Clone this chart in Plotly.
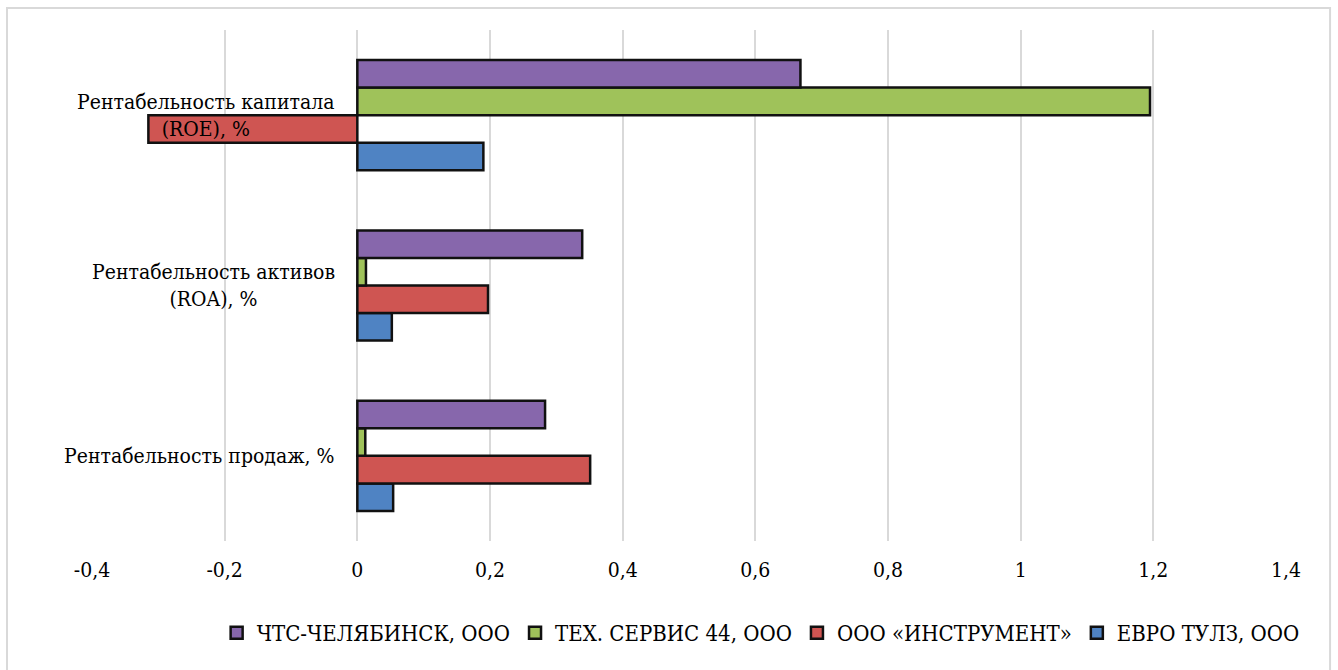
import plotly.graph_objects as go

# Profitability indicators (bottom to top on the chart)
categories = [
    "Рентабельность продаж, %",
    "Рентабельность активов<br>(ROA), %",
    "Рентабельность капитала<br>(ROE), %",
]

# Companies, listed in the order they are stacked inside a group (bottom first)
companies = ["ЕВРО ТУЛЗ, ООО", "ООО «ИНСТРУМЕНТ»", "ТЕХ. СЕРВИС 44, ООО", "ЧТС-ЧЕЛЯБИНСК, ООО"]
evro_tulz = [0.054, 0.052, 0.19]
instrument = [0.351, 0.197, -0.315]
teh_servis = [0.012, 0.013, 1.195]
chts = [0.283, 0.339, 0.668]
series = [evro_tulz, instrument, teh_servis, chts]
colors = ["#4f83c3", "#cf5552", "#9fc25a", "#8767ac"]

tick_vals = [-0.4, -0.2, 0, 0.2, 0.4, 0.6, 0.8, 1.0, 1.2, 1.4]
tick_text = ["-0,4", "-0,2", "0", "0,2", "0,4", "0,6", "0,8", "1", "1,2", "1,4"]

FONT = "DejaVu Serif Condensed, DejaVu Serif"

fig = go.Figure()
for name, vals, col in zip(companies, series, colors):
    fig.add_trace(go.Bar(
        y=categories, x=vals, name=name, orientation="h",
        marker=dict(color=col, line=dict(color="#111111", width=2.5)),
    ))

# Category labels sit next to the zero axis, centred line by line
for cat in categories:
    fig.add_annotation(
        x=0, y=cat, xref="x", yref="y", text=cat, showarrow=False,
        xanchor="right", xshift=-20, align="center",
        font=dict(family=FONT, size=21, color="#000000"),
    )

# Light frame around the whole chart
fig.add_shape(type="rect", xref="paper", yref="paper",
              x0=-0.0712, x1=1.0369, y0=-0.26, y1=1.043,
              line=dict(color="#d9d9d9", width=2), fillcolor="rgba(0,0,0,0)", layer="below")

fig.update_layout(
    width=1338, height=670,
    margin=dict(l=92, r=52, t=30, b=129),
    paper_bgcolor="white", plot_bgcolor="white",
    barmode="group", bargap=0.353, bargroupgap=0,
    font=dict(family=FONT, size=21, color="#000000"),
    showlegend=True,
    legend=dict(orientation="h", traceorder="reversed",
                x=0.56, xanchor="center", y=-0.18, yanchor="middle",
                font=dict(family=FONT, size=22, color="#000000"),
                itemwidth=30),
    xaxis=dict(range=[-0.4, 1.4], tickvals=tick_vals, ticktext=tick_text,
               showgrid=True, gridcolor="#d9d9d9", gridwidth=2,
               zeroline=False, showline=False, ticks="", ticklabelstandoff=14,
               tickfont=dict(family=FONT, size=21)),
    yaxis=dict(showticklabels=False, showgrid=False, zeroline=False, showline=False,
               ticks=""),
)

fig.write_html("out.html")
